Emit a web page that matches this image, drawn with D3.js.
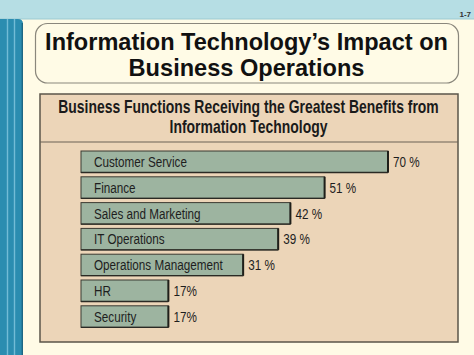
<!DOCTYPE html>
<html>
<head>
<meta charset="utf-8">
<script src="https://cdn.jsdelivr.net/npm/d3@7"></script>
<style>
  html, body { margin: 0; padding: 0; background: #fffbe6; }
  svg { display: block; }
</style>
</head>
<body>
<svg id="chart" width="474" height="355"></svg>
<script>
// ---- Data ----
const categories = ["Customer Service", "Finance", "Sales and Marketing", "IT Operations",
                    "Operations Management", "HR", "Security"];
const values = [70, 51, 42, 39, 31, 17, 17];
const valueLabels = ["70 %", "51 %", "42 %", "39 %", "31 %", "17%", "17%"];
const titleLines = ["Information Technology\u2019s Impact on", "Business Operations"];
const headerLines = ["Business Functions Receiving the Greatest Benefits from", "Information Technology"];
const slideNumber = "1-7";

const W = 474, H = 355;
const svg = d3.select("#chart");
const sans = "'Liberation Sans',Arial,Helvetica,sans-serif";
const condense = 0.78; // horizontal compression to mimic a condensed face

// place text at (px,py), horizontally scaled by a factor (or to a target width)
function place(sel, px, py, factorFn) {
  sel.each(function (d, i) {
    const len = this.getComputedTextLength();
    const s = factorFn(d, i, len);
    d3.select(this).attr("x", 0).attr("y", 0)
      .attr("transform", `translate(${px(d, i)},${py(d, i)}) scale(${s},1)`);
  });
}

// background
svg.append("rect").attr("width", W).attr("height", H).attr("fill", "#fffbe6");
// top band
svg.append("rect").attr("x", 0).attr("y", 0).attr("width", W).attr("height", 19).attr("fill", "#b6dee4");
svg.append("line").attr("x1", 0).attr("x2", W).attr("y1", 19).attr("y2", 19).attr("stroke", "#9ccbd3").attr("stroke-width", 1);
// left stripe
svg.append("path")
  .attr("d", `M0,19 H18 Q23,19 23,24 V${H} H0 Z`)
  .attr("fill", "#2b8db0");
[7.5, 14.5].forEach(x => svg.append("line").attr("x1", x).attr("x2", x).attr("y1", 19).attr("y2", H)
  .attr("stroke", "#72bcd6").attr("stroke-width", 1.4));
svg.append("line").attr("x1", 22.3).attr("x2", 22.3).attr("y1", 23).attr("y2", H)
  .attr("stroke", "#1d6783").attr("stroke-width", 1.4);

// slide number
svg.append("text").attr("x", 471).attr("y", 16.5).attr("text-anchor", "end")
  .attr("font-family", sans).attr("font-size", 8).attr("font-weight", "bold")
  .attr("fill", "#333").text(slideNumber);

// title box
svg.append("rect").attr("x", 35.5).attr("y", 23.5).attr("width", 423).attr("height", 59.5)
  .attr("rx", 12).attr("ry", 12).attr("fill", "#fffbe6").attr("stroke", "#8a877c").attr("stroke-width", 1.2);
const titleWidths = [403, 236];
svg.append("g").selectAll("text").data(titleLines).join("text")
  .attr("text-anchor", "middle")
  .attr("font-family", sans).attr("font-weight", "bold").attr("font-size", 23)
  .attr("fill", "#111")
  .text(d => d)
  .call(place, () => 246.5, (d, i) => 49.5 + i * 26.5, (d, i, len) => titleWidths[i] / len);

// panel
const panel = {x: 40, y: 94, w: 418, h: 248, sep: 142};
svg.append("rect").attr("x", panel.x).attr("y", panel.y).attr("width", panel.w).attr("height", panel.h)
  .attr("fill", "#ecd5b8").attr("stroke", "#5b554a").attr("stroke-width", 1.5);
svg.append("line").attr("x1", panel.x).attr("x2", panel.x + panel.w).attr("y1", panel.sep).attr("y2", panel.sep)
  .attr("stroke", "#6a6355").attr("stroke-width", 1.2);
const headerWidths = [381, 158];
svg.append("g").selectAll("text").data(headerLines).join("text")
  .attr("text-anchor", "middle")
  .attr("font-family", sans).attr("font-weight", "bold").attr("font-size", 17.5)
  .attr("fill", "#1a1a1a")
  .text(d => d)
  .call(place, () => 248.5, (d, i) => 113 + i * 20, (d, i, len) => headerWidths[i] / len);

// scales
const x0 = 81;
const x = d3.scaleSqrt().domain([0, 70]).range([-45, 388]);
const y = d3.scaleBand().domain(categories).range([146.7, 331.6]).paddingInner(0.167).paddingOuter(0.167);

const rows = categories.map((c, i) => ({cat: c, v: values[i], lab: valueLabels[i]}));
const g = svg.append("g");
const row = g.selectAll("g").data(rows).join("g");
row.append("rect")
  .attr("x", x0).attr("y", d => y(d.cat))
  .attr("width", d => x(d.v) - x0).attr("height", y.bandwidth())
  .attr("fill", "#9db4a0").attr("stroke", "#3b3a32").attr("stroke-width", 1);
row.append("line")
  .attr("x1", d => x(d.v)).attr("x2", d => x(d.v))
  .attr("y1", d => y(d.cat)).attr("y2", d => y(d.cat) + y.bandwidth())
  .attr("stroke", "#1f1f1a").attr("stroke-width", 2);
row.append("line")
  .attr("x1", x0).attr("x2", d => x(d.v))
  .attr("y1", d => y(d.cat) + y.bandwidth()).attr("y2", d => y(d.cat) + y.bandwidth())
  .attr("stroke", "#2a2a24").attr("stroke-width", 1.3);
row.append("text")
  .attr("font-family", sans).attr("font-size", 15).attr("fill", "#1e1e1e")
  .text(d => d.cat)
  .call(place, () => 94, d => y(d.cat) + y.bandwidth() / 2 + 5.2, () => condense);
row.append("text")
  .attr("font-family", sans).attr("font-size", 15).attr("fill", "#1e1e1e")
  .text(d => d.lab)
  .call(place, d => x(d.v) + 5, d => y(d.cat) + y.bandwidth() / 2 + 5.2, () => condense);
</script>
</body>
</html>
